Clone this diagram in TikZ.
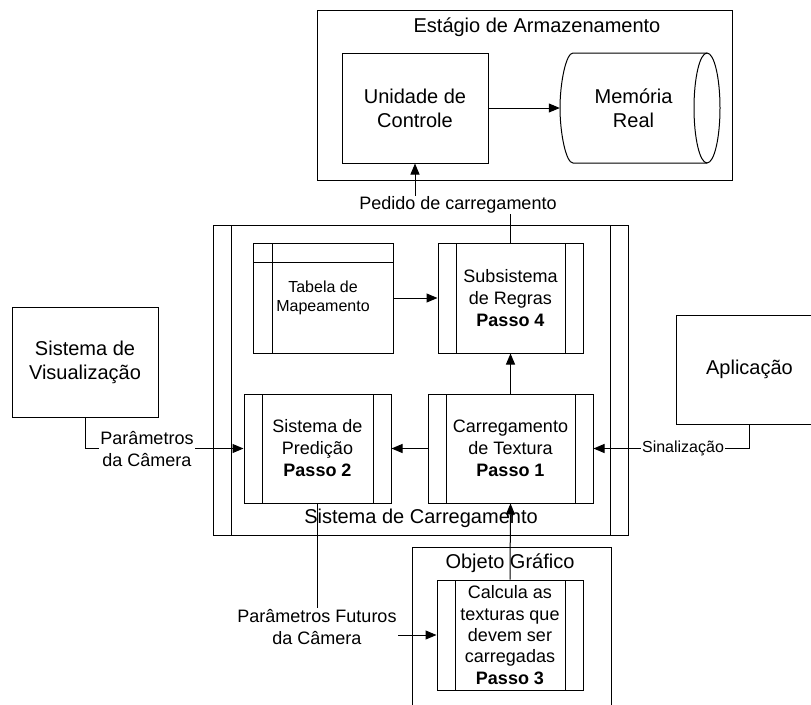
\documentclass[tikz,border=0pt]{standalone}
\usepackage{fontspec}
\setmainfont{Liberation Sans}
\usetikzlibrary{arrows.meta,calc}
\tikzset{
  fbig/.style={font=\fontsize{20}{24}\selectfont},
  fmid/.style={font=\fontsize{18}{22}\selectfont},
  fsmall/.style={font=\fontsize{16}{19.5}\selectfont},
  box/.style={draw, line width=1pt, inner sep=0pt, align=center},
  procbox/.style={box, fmid, path picture={
      \draw[line width=1pt] ([xshift=18.5pt]path picture bounding box.north west) -- ([xshift=18.5pt]path picture bounding box.south west);
      \draw[line width=1pt] ([xshift=-18pt]path picture bounding box.north east) -- ([xshift=-18pt]path picture bounding box.south east);}},
  tablebox/.style={box, fsmall, path picture={
      \draw[line width=1pt] ([xshift=19pt]path picture bounding box.north west) -- ([xshift=19pt]path picture bounding box.south west);
      \draw[line width=1pt] ([yshift=-19pt]path picture bounding box.north west) -- ([yshift=-19pt]path picture bounding box.north east);}},
  arr/.style={line width=1pt, -{Triangle[length=11pt,width=9pt]}},
  link/.style={line width=1pt},
  lbl/.style={fmid, fill=white, inner sep=1pt, align=center},
}
\begin{document}
\begin{tikzpicture}[x=1pt,y=-1pt]
\useasboundingbox (0,0) rectangle (811,704);
\clip (0,0) rectangle (811,704);

% storage stage
\node[box, minimum width=415pt, minimum height=170pt] (stage) at (524.5,95) {};
\node[fbig] (stagetitle) at (537,27) {Estágio de Armazenamento};
\node[box, fbig, minimum width=146pt, minimum height=110pt] (ctrl) at (415,108) {Unidade de\\Controle};
\node[fbig, minimum width=147pt, minimum height=110pt, inner sep=0pt, align=center] (mem) at (633.5,108) {Memória\\Real};
% drum outline of the memory
\draw[link] (707,108) ellipse [x radius=13pt, y radius=55pt];
\draw[link] (707,53) -- (573,53) .. controls (565.8,53) and (560,83.6) .. (560,108)
  .. controls (560,132.4) and (565.8,163) .. (573,163) -- (707,163);
\draw[arr] (ctrl.east) -- (mem.west);

% loading system
\node[procbox, minimum width=415pt, minimum height=310pt] (load) at (420.5,380) {};
\node[fbig] (loadtitle) at (421,518) {Sistema de Carregamento};
\node[tablebox, minimum width=140pt, minimum height=110pt] (map) at (323,298) {Tabela de\\Mapeamento};
\node[procbox, minimum width=145pt, minimum height=110pt] (rules) at (510.5,298) {Subsistema\\de Regras\\\textbf{Passo 4}};
\node[procbox, minimum width=147pt, minimum height=109pt] (pred) at (317.5,448.5) {Sistema de\\Predição\\\textbf{Passo 2}};
\node[procbox, minimum width=165pt, minimum height=109pt] (tex) at (510.5,448.5) {Carregamento\\de Textura\\\textbf{Passo 1}};

% outside actors
\node[box, fbig, minimum width=146pt, minimum height=110pt] (vis) at (85,362) {Sistema de\\Visualização};
\node[box, fbig, minimum width=147pt, minimum height=109pt] (app) at (749.5,369.5) {Aplicação};

% graphic object
\node[box, minimum width=199pt, minimum height=180pt] (obj) at (511.5,637) {};
\node[fbig] (objtitle) at (510,563) {Objeto Gráfico};
\node[procbox, font=\fontsize{18}{21.3}\selectfont, minimum width=146pt, minimum height=110pt] (pick) at (510,635) {Calcula as\\texturas que\\devem ser\\carregadas\\\textbf{Passo 3}};

% connectors
\draw[arr] (rules.north) |- ($(ctrl.south)+(0,42)$) -- (ctrl.south);
\node[lbl] (reqlbl) at (458,205) {Pedido de carregamento};
\draw[arr] (map.east) -- (rules.west);
\draw[arr] (tex.north) -- (rules.south);
\draw[arr] (tex.west) -- (pred.east);
\draw[arr] (vis.south) |- (pred.west);
\node[lbl] (camlbl) at (147,449) {Parâmetros\\da Câmera};
\draw[arr] (app.south) |- (tex.east);
\node[lbl, fsmall] (siglbl) at (683,448) {Sinalização};
\draw[arr] (pick.north) -- (tex.south);
\draw[arr] (pred.south) |- (pick.west);
\node[lbl] (futlbl) at (317,627) {Parâmetros Futuros\\da Câmera};
\end{tikzpicture}
\end{document}
